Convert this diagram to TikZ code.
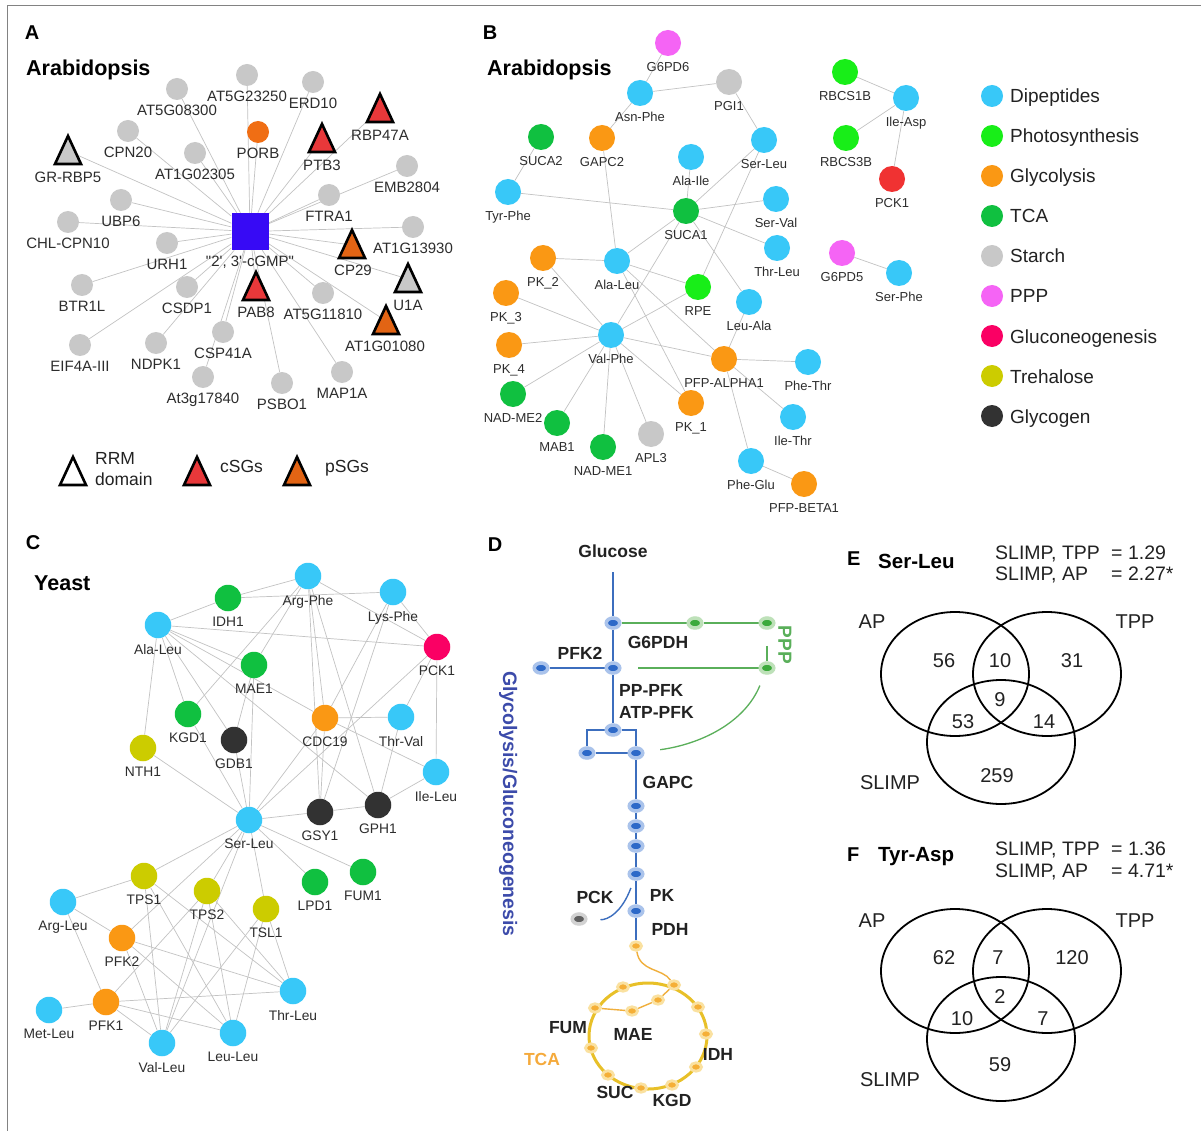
\documentclass[tikz,border=0pt]{standalone}
\usepackage{fontspec}
\setmainfont{Liberation Sans}
\usetikzlibrary{shapes.geometric}
\pgfdeclarelayer{background}
\pgfsetlayers{background,main}
\definecolor{dip}{RGB}{56,200,248}
\definecolor{pho}{RGB}{24,238,24}
\definecolor{gly}{RGB}{250,152,20}
\definecolor{tca}{RGB}{16,192,64}
\definecolor{sta}{RGB}{200,200,200}
\definecolor{ppp}{RGB}{245,100,245}
\definecolor{glu}{RGB}{250,0,100}
\definecolor{tre}{RGB}{204,204,0}
\definecolor{gcg}{RGB}{50,50,50}
\definecolor{pckB}{RGB}{240,50,50}
\definecolor{agray}{RGB}{200,200,200}
\definecolor{aorange}{RGB}{240,110,20}
\definecolor{tred}{RGB}{232,56,58}
\definecolor{torange}{RGB}{226,100,20}
\definecolor{cgmp}{RGB}{55,10,245}
\definecolor{edgec}{RGB}{195,195,195}
\definecolor{labc}{RGB}{45,45,45}
\definecolor{dblue}{RGB}{45,105,200}
\definecolor{dbhalo}{RGB}{170,195,235}
\definecolor{dbline}{RGB}{60,110,190}
\definecolor{dgreen}{RGB}{60,170,60}
\definecolor{dghalo}{RGB}{190,225,185}
\definecolor{dgline}{RGB}{90,175,90}
\definecolor{dorange}{RGB}{245,175,55}
\definecolor{dohalo}{RGB}{250,225,160}
\definecolor{doline}{RGB}{240,175,60}
\definecolor{dring}{RGB}{232,192,40}
\definecolor{dtitle}{RGB}{60,75,170}
\definecolor{dtca}{RGB}{245,170,60}
\definecolor{dtxt}{RGB}{34,34,34}
\definecolor{frame}{RGB}{130,130,130}
\begin{document}
\begin{tikzpicture}[x=1pt,y=-1pt,
  edge/.style={draw=edgec, line width=0.7pt},
  an/.style={circle, fill=#1, minimum size=22pt, inner sep=0pt},
  lA/.style={font=\fontsize{15}{18}\selectfont, text=labc, inner sep=0pt, yshift=-5.1pt},
  bn/.style={circle, fill=#1, minimum size=26pt, inner sep=0pt},
  lB/.style={font=\fontsize{13}{15}\selectfont, text=labc, inner sep=0pt, yshift=-5.8pt},
  cn/.style={circle, fill=#1, minimum size=26.5pt, inner sep=0pt},
  lC/.style={font=\fontsize{13.8}{16}\selectfont, text=labc, inner sep=0pt, yshift=-5.7pt},
  tl/.style={font=\fontsize{15}{18}\selectfont, text=labc, inner sep=0pt},
  panel/.style={font=\bfseries\fontsize{20}{22}\selectfont, text=black, inner sep=0pt},
  ttl/.style={font=\bfseries\fontsize{21.5}{24}\selectfont, text=black, inner sep=0pt, anchor=base west},
  lgt/.style={font=\fontsize{19}{22}\selectfont, text=dtxt, inner sep=0pt, anchor=base west},
  alg/.style={font=\fontsize{17.5}{20}\selectfont, text=dtxt, inner sep=0pt, anchor=base west},
  pics/tri/.style={code={\draw[line width=2.6pt, line join=miter, fill=#1] (-13,13) -- (0,-15) -- (13,13) -- cycle;}},
  bdot/.style={ellipse, minimum width=13.5pt, minimum height=10pt, inner sep=0pt, fill=dblue, draw=dbhalo, line width=3.5pt},
  gdot/.style={ellipse, minimum width=13.5pt, minimum height=10pt, inner sep=0pt, fill=dgreen, draw=dghalo, line width=3.5pt},
  odot/.style={ellipse, minimum width=11pt, minimum height=8.5pt, inner sep=0pt, fill=dorange, draw=dohalo, line width=2.8pt},
  kdot/.style={ellipse, minimum width=13.5pt, minimum height=10pt, inner sep=0pt, fill=gray!75!black, draw=gray!35, line width=3.5pt},
  bl/.style={draw=dbline, line width=1.4pt},
  gl/.style={draw=dgline, line width=1.3pt},
  ol/.style={draw=doline, line width=1.4pt},
  dl/.style={font=\bfseries\fontsize{17.5}{20}\selectfont, text=dtxt, inner sep=0pt},
  venn/.style={ellipse, draw=black, line width=1.8pt, minimum width=148pt, minimum height=124pt, inner sep=0pt},
  vt/.style={font=\fontsize{20}{22}\selectfont, text=dtxt, inner sep=0pt},
  vs/.style={font=\fontsize{19.5}{22}\selectfont, text=dtxt, inner sep=0pt, anchor=base west}
]
\useasboundingbox (0,0) rectangle (1201,1131);

% ================= Panel A =================
\node[panel] (tA) at (32,33) {A};
\node[ttl] (tA2) at (26,75.5) {Arabidopsis};
\node[fill=cgmp, minimum size=37pt, inner sep=0pt] (aC) at (250,231.5) {};
\node[tl] (aCl) at (250,262) {\textquotedbl 2\textquotesingle, 3\textquotesingle-cGMP\textquotedbl};
\node[an=agray, label={[lA]below:AT5G08300}] (aAT5G08300) at (177,89) {};
\node[an=agray, label={[lA]below:CPN20}] (aCPN20) at (128,131) {};
\node[an=agray, label={[lA]below:AT1G02305}] (aAT1G02305) at (195,153) {};
\node[an=agray, label={[lA]below:UBP6}] (aUBP6) at (121,200) {};
\node[an=agray, label={[lA]below:CHL-CPN10}] (aCHLCPN10) at (68,222) {};
\node[an=agray, label={[lA]below:URH1}] (aURH1) at (167,243) {};
\node[an=agray, label={[lA]below:AT5G23250}] (aAT5G23250) at (247,75) {};
\node[an=agray, label={[lA]below:ERD10}] (aERD10) at (313,82) {};
\node[an=aorange, label={[lA]below:PORB}] (aPORB) at (258,132) {};
\node[an=agray, label={[lA]below:EMB2804}] (aEMB2804) at (407,166) {};
\node[an=agray, label={[lA]below:FTRA1}] (aFTRA1) at (329,195) {};
\node[an=agray, label={[lA]below:AT1G13930}] (aAT1G13930) at (413,227) {};
\node[an=agray, label={[lA]below:BTR1L}] (aBTR1L) at (82,285) {};
\node[an=agray, label={[lA]below:CSDP1}] (aCSDP1) at (187,287) {};
\node[an=agray, label={[lA]below:AT5G11810}] (aAT5G11810) at (323,293) {};
\node[an=agray, label={[lA]below:EIF4A-III}] (aEIF4AIII) at (80,345) {};
\node[an=agray, label={[lA]below:NDPK1}] (aNDPK1) at (156,343) {};
\node[an=agray, label={[lA]below:CSP41A}] (aCSP41A) at (223,332) {};
\node[an=agray, label={[lA]below:At3g17840}] (aAt3g17840) at (203,377) {};
\node[an=agray, label={[lA]below:PSBO1}] (aPSBO1) at (282,383) {};
\node[an=agray, label={[lA]below:MAP1A}] (aMAP1A) at (342,372) {};
% triangles
\coordinate (aGRRBP5) at (68,151);
\coordinate (aPTB3) at (322,139);
\coordinate (aRBP47A) at (380,109);
\coordinate (aCP29) at (352,245);
\coordinate (aU1A) at (408,279);
\coordinate (aAT1G01080) at (386,321);
\coordinate (aPAB8) at (256,287);
\pic at (aGRRBP5) {tri=agray};
\pic at (aPTB3) {tri=tred};
\pic at (aRBP47A) {tri=tred};
\pic at (aCP29) {tri=torange};
\pic at (aU1A) {tri=agray};
\pic at (aAT1G01080) {tri=torange};
\pic at (aPAB8) {tri=tred};
\node[tl] (aGRRBP5l) at (68,177) {GR-RBP5};
\node[tl] (aPTB3l) at (322,165) {PTB3};
\node[tl] (aRBP47Al) at (380,135) {RBP47A};
\node[tl] (aCP29l) at (353,270) {CP29};
\node[tl] (aU1Al) at (408,305) {U1A};
\node[tl] (aAT1G01080l) at (385,346) {AT1G01080};
\node[tl] (aPAB8l) at (256,312) {PAB8};
% legend A
\pic at (73,472) {tri=white};
\pic at (197,472) {tri=tred};
\pic at (297,472) {tri=torange};
\node[alg] (aLg1) at (95,464) {RRM};
\node[alg] (aLg2) at (95,485) {domain};
\node[alg] (aLg3) at (220,472) {cSGs};
\node[alg] (aLg4) at (325,472) {pSGs};

% ================= Panel B =================
\node[panel] (tB) at (490,33) {B};
\node[ttl] (tB2) at (487,75.5) {Arabidopsis};
\node[bn=ppp, label={[lB]below:G6PD6}] (bG6PD6) at (668,43) {};
\node[bn=dip, label={[lB]below:Asn-Phe}] (bAsnPhe) at (640,93) {};
\node[bn=sta, label={[lB]below:PGI1}] (bPGI1) at (729,82) {};
\node[bn=tca, label={[lB]below:SUCA2}] (bSUCA2) at (541,137) {};
\node[bn=gly, label={[lB]below:GAPC2}] (bGAPC2) at (602,138) {};
\node[bn=dip, label={[lB]below:Ala-Ile}] (bAlaIle) at (691,157) {};
\node[bn=dip, label={[lB]below:Tyr-Phe}] (bTyrPhe) at (508,192) {};
\node[bn=tca, label={[lB]below:SUCA1}] (bSUCA1) at (686,211) {};
\node[bn=dip, label={[lB]below:Ser-Leu}] (bSerLeu) at (764,140) {};
\node[bn=dip, label={[lB]below:Ser-Val}] (bSerVal) at (776,199) {};
\node[bn=dip, label={[lB]below:Thr-Leu}] (bThrLeu) at (777,248) {};
\node[bn=dip, label={[lB]below:Leu-Ala}] (bLeuAla) at (749,302) {};
\node[bn=gly, label={[lB]below:PK\_2}] (bPK2) at (543,258) {};
\node[bn=dip, label={[lB]below:Ala-Leu}] (bAlaLeu) at (617,261) {};
\node[bn=pho, label={[lB]below:RPE}] (bRPE) at (698,287) {};
\node[bn=gly, label={[lB]below:PK\_3}] (bPK3) at (506,293) {};
\node[bn=dip, label={[lB]below:Val-Phe}] (bValPhe) at (611,335) {};
\node[bn=gly, label={[lB]below:PK\_4}] (bPK4) at (509,345) {};
\node[bn=gly, label={[lB]below:PFP-ALPHA1}] (bPFPALPHA1) at (724,359) {};
\node[bn=dip, label={[lB]below:Phe-Thr}] (bPheThr) at (808,362) {};
\node[bn=tca, label={[lB]below:NAD-ME2}] (bNADME2) at (513,394) {};
\node[bn=gly, label={[lB]below:PK\_1}] (bPK1) at (691,403) {};
\node[bn=tca, label={[lB]below:MAB1}] (bMAB1) at (557,423) {};
\node[bn=dip, label={[lB]below:Ile-Thr}] (bIleThr) at (793,417) {};
\node[bn=tca, label={[lB]below:NAD-ME1}] (bNADME1) at (603,447) {};
\node[bn=sta, label={[lB]below:APL3}] (bAPL3) at (651,434) {};
\node[bn=dip, label={[lB]below:Phe-Glu}] (bPheGlu) at (751,461) {};
\node[bn=gly, label={[lB]below:PFP-BETA1}] (bPFPBETA1) at (804,484) {};
\node[bn=pho, label={[lB]below:RBCS1B}] (bRBCS1B) at (845,72) {};
\node[bn=dip, label={[lB]below:Ile-Asp}] (bIleAsp) at (906,98) {};
\node[bn=pho, label={[lB]below:RBCS3B}] (bRBCS3B) at (846,138) {};
\node[bn=pckB, label={[lB]below:PCK1}] (bPCK1) at (892,179) {};
\node[bn=ppp, label={[lB]below:G6PD5}] (bG6PD5) at (842,253) {};
\node[bn=dip, label={[lB]below:Ser-Phe}] (bSerPhe) at (899,273) {};
% legend B
\foreach \c/\t [count=\i from 0] in {dip/Dipeptides, pho/Photosynthesis, gly/Glycolysis, tca/TCA, sta/Starch, ppp/PPP, glu/Gluconeogenesis, tre/Trehalose, gcg/Glycogen}{
  \node[circle, fill=\c, minimum size=22pt, inner sep=0pt] (lgc\i) at (992,{96+40*\i}) {};
  \node[lgt] (lgt\i) at (1010,{103+40*\i}) {\t};
}

% ================= Panel C =================
\node[panel] (tC) at (33,543) {C};
\node[ttl] (tC2) at (34,590.5) {Yeast};
\node[cn=dip, label={[lC]below:Arg-Phe}] (cArgPhe) at (308,576) {};
\node[cn=tca, label={[lC]below:IDH1}] (cIDH1) at (228,598) {};
\node[cn=dip, label={[lC]below:Lys-Phe}] (cLysPhe) at (393,592) {};
\node[cn=dip, label={[lC]below:Ala-Leu}] (cAlaLeu) at (158,625) {};
\node[cn=glu, label={[lC]below:PCK1}] (cPCK1) at (437,647) {};
\node[cn=tca, label={[lC]below:MAE1}] (cMAE1) at (254,665) {};
\node[cn=tca, label={[lC]below:KGD1}] (cKGD1) at (188,714) {};
\node[cn=gly, label={[lC]below:CDC19}] (cCDC19) at (325,718) {};
\node[cn=dip, label={[lC]below:Thr-Val}] (cThrVal) at (401,717) {};
\node[cn=gcg, label={[lC]below:GDB1}] (cGDB1) at (234,740) {};
\node[cn=tre, label={[lC]below:NTH1}] (cNTH1) at (143,748) {};
\node[cn=dip, label={[lC]below:Ile-Leu}] (cIleLeu) at (436,772) {};
\node[cn=gcg, label={[lC]below:GSY1}] (cGSY1) at (320,812) {};
\node[cn=gcg, label={[lC]below:GPH1}] (cGPH1) at (378,805) {};
\node[cn=dip, label={[lC]below:Ser-Leu}] (cSerLeu) at (249,820) {};
\node[cn=tre, label={[lC]below:TPS1}] (cTPS1) at (144,876) {};
\node[cn=tre, label={[lC]below:TPS2}] (cTPS2) at (207,891) {};
\node[cn=tre, label={[lC]below:TSL1}] (cTSL1) at (266,909) {};
\node[cn=tca, label={[lC]below:LPD1}] (cLPD1) at (315,882) {};
\node[cn=tca, label={[lC]below:FUM1}] (cFUM1) at (363,872) {};
\node[cn=dip, label={[lC]below:Arg-Leu}] (cArgLeu) at (63,902) {};
\node[cn=gly, label={[lC]below:PFK2}] (cPFK2) at (122,938) {};
\node[cn=dip, label={[lC]below:Thr-Leu}] (cThrLeu) at (293,991) {};
\node[cn=dip, label={[lC]below:Met-Leu}] (cMetLeu) at (49,1010) {};
\node[cn=gly, label={[lC]below:PFK1}] (cPFK1) at (106,1002) {};
\node[cn=dip, label={[lC]below:Val-Leu}] (cValLeu) at (162,1043) {};
\node[cn=dip, label={[lC]below:Leu-Leu}] (cLeuLeu) at (233,1033) {};

% ================= Panel D =================
\node[panel] (tD) at (495,545) {D};
\node[dl] (dGlc) at (613,551) {Glucose};
\coordinate (dTop) at (613,572);
\node[bdot] (d1) at (613,623) {};
\node[gdot] (g1) at (695,623) {};
\node[gdot] (g2) at (767,623) {};
\node[gdot] (g3) at (767,668) {};
\node[bdot] (dP) at (541,668) {};
\node[bdot] (d2) at (613,668) {};
\node[bdot] (d3) at (613,730) {};
\node[bdot] (d4) at (587,753) {};
\node[bdot] (d5) at (636,753) {};
\node[bdot] (d6) at (636,806) {};
\node[bdot] (d7) at (636,826) {};
\node[bdot] (d8) at (636,846) {};
\node[bdot] (d9) at (636,874) {};
\node[bdot] (d10) at (636,911) {};
\node[kdot] (dK) at (579,919) {};
\node[odot] (o1) at (636,946) {};
\node[odot] (t1) at (623,987) {};
\node[odot] (t2) at (674,985) {};
\node[odot] (t3) at (698,1007) {};
\node[odot] (t4) at (706,1034) {};
\node[odot] (t5) at (696,1067) {};
\node[odot] (t6) at (672,1085) {};
\node[odot] (t7) at (641,1088) {};
\node[odot] (t8) at (608,1075) {};
\node[odot] (t9) at (591,1048) {};
\node[odot] (t10) at (595,1008) {};
\node[odot] (m1) at (658,1000) {};
\node[odot] (m2) at (632,1011) {};
\node[dl] (dG6PDH) at (658,642) {G6PDH};
\node[dl] (dPFK2) at (580,653) {PFK2};
\node[dl, rotate=-90, text=dgline, font=\bfseries\fontsize{19}{20}\selectfont] (dPPP) at (785,645) {PPP};
\node[dl, anchor=base west] (dPP) at (619,696.5) {PP-PFK};
\node[dl, anchor=base west] (dATP) at (619,718.5) {ATP-PFK};
\node[dl] (dGAPC) at (668,782) {GAPC};
\node[dl] (dPCK) at (595,897) {PCK};
\node[dl] (dPK) at (662,895) {PK};
\node[dl] (dPDH) at (670,929) {PDH};
\node[dl] (dFUM) at (568,1028) {FUM};
\node[dl] (dMAE) at (633,1034) {MAE};
\node[dl, text=dtca] (dTCA) at (542,1059) {TCA};
\node[dl] (dIDH) at (718,1054) {IDH};
\node[dl] (dSUC) at (615,1092) {SUC};
\node[dl] (dKGD) at (672,1100) {KGD};
\node[rotate=-90, font=\bfseries\fontsize{19.5}{20}\selectfont, text=dtitle, inner sep=0pt] (dTitle) at (508,804) {Glycolysis/Gluconeogenesis};

% ================= Panels E, F =================
\node[panel, anchor=base west] (tE) at (847,565) {E};
\node[ttl, font=\bfseries\fontsize{20.5}{22}\selectfont] (tE2) at (878,568) {Ser-Leu};
\node[vs] (eS1) at (995,559) {SLIMP, TPP};
\node[vs] (eS1b) at (1111,559) {= 1.29};
\node[vs] (eS2) at (995,580) {SLIMP, AP};
\node[vs] (eS2b) at (1111,580) {= 2.27*};
\node[venn] (eAP) at (955,674) {};
\node[venn] (eTPP) at (1047,674) {};
\node[venn] (eSL) at (1001,742) {};
\node[vt] (eAPl) at (872,622) {AP};
\node[vt] (eTPPl) at (1135,622) {TPP};
\node[vt] (eSLl) at (890,783) {SLIMP};
\node[vt] (e1) at (944,661) {56};
\node[vt] (e2) at (1000,661) {10};
\node[vt] (e3) at (1072,661) {31};
\node[vt] (e4) at (1000,700) {9};
\node[vt] (e5) at (963,722) {53};
\node[vt] (e6) at (1044,722) {14};
\node[vt] (e7) at (997,776) {259};

\node[panel, anchor=base west] (tF) at (847,861) {F};
\node[ttl, font=\bfseries\fontsize{20.5}{22}\selectfont] (tF2) at (878,861) {Tyr-Asp};
\node[vs] (fS1) at (995,855) {SLIMP, TPP};
\node[vs] (fS1b) at (1111,855) {= 1.36};
\node[vs] (fS2) at (995,877) {SLIMP, AP};
\node[vs] (fS2b) at (1111,877) {= 4.71*};
\node[venn] (fAP) at (955,971) {};
\node[venn] (fTPP) at (1047,971) {};
\node[venn] (fSL) at (1001,1039) {};
\node[vt] (fAPl) at (872,921) {AP};
\node[vt] (fTPPl) at (1135,921) {TPP};
\node[vt] (fSLl) at (890,1080) {SLIMP};
\node[vt] (f1) at (944,958) {62};
\node[vt] (f2) at (998,958) {7};
\node[vt] (f3) at (1072,958) {120};
\node[vt] (f4) at (1000,997) {2};
\node[vt] (f5) at (962,1019) {10};
\node[vt] (f6) at (1043,1019) {7};
\node[vt] (f7) at (1000,1065) {59};

% ================= background: edges =================
\begin{pgfonlayer}{background}
\fill[white] (0,0) rectangle (1201,1131);
\draw[frame, line width=1pt] (7.5,1131) -- (7.5,5.5) -- (1201,5.5);
\foreach \n in {aAT5G08300,aCPN20,aAT1G02305,aUBP6,aCHLCPN10,aURH1,aAT5G23250,aERD10,aPORB,aEMB2804,aFTRA1,aAT1G13930,aBTR1L,aCSDP1,aAT5G11810,aEIF4AIII,aNDPK1,aCSP41A,aAt3g17840,aPSBO1,aMAP1A,aGRRBP5,aPTB3,aRBP47A,aCP29,aU1A,aAT1G01080,aPAB8}
  \draw[edge] (aC) -- (\n);
\foreach \u/\v in {bG6PD6/bAsnPhe, bAsnPhe/bPGI1, bAsnPhe/bGAPC2, bPGI1/bSerLeu, bSUCA2/bTyrPhe, bTyrPhe/bSUCA1, bGAPC2/bAlaLeu, bAlaIle/bSUCA1, bSUCA1/bSerLeu, bSUCA1/bSerVal, bSUCA1/bThrLeu, bSUCA1/bAlaLeu, bSUCA1/bLeuAla, bSUCA1/bValPhe, bSerLeu/bRPE, bAlaLeu/bPK2, bAlaLeu/bRPE, bAlaLeu/bPFPALPHA1, bAlaLeu/bPK1, bPK2/bValPhe, bPK3/bValPhe, bPK4/bValPhe, bNADME2/bValPhe, bMAB1/bValPhe, bNADME1/bValPhe, bAPL3/bValPhe, bPK1/bValPhe, bValPhe/bPFPALPHA1, bValPhe/bRPE, bLeuAla/bPFPALPHA1, bPFPALPHA1/bPheThr, bPFPALPHA1/bIleThr, bPFPALPHA1/bPheGlu, bPheGlu/bPFPBETA1, bRBCS1B/bIleAsp, bRBCS3B/bIleAsp, bIleAsp/bPCK1, bG6PD5/bSerPhe}
  \draw[edge] (\u) -- (\v);
\foreach \u/\v in {cAlaLeu/cIDH1, cIDH1/cArgPhe, cIDH1/cLysPhe, cArgPhe/cPCK1, cLysPhe/cPCK1, cAlaLeu/cPCK1, cAlaLeu/cMAE1, cAlaLeu/cKGD1, cAlaLeu/cGDB1, cAlaLeu/cNTH1, cAlaLeu/cCDC19, cAlaLeu/cGPH1, cArgPhe/cMAE1, cArgPhe/cKGD1, cArgPhe/cCDC19, cArgPhe/cGSY1, cArgPhe/cGPH1, cMAE1/cGDB1, cMAE1/cSerLeu, cLysPhe/cCDC19, cLysPhe/cGSY1, cPCK1/cThrVal, cPCK1/cIleLeu, cPCK1/cSerLeu, cCDC19/cThrVal, cCDC19/cIleLeu, cCDC19/cGSY1, cCDC19/cSerLeu, cThrVal/cGPH1, cGPH1/cIleLeu, cGPH1/cGSY1, cGSY1/cSerLeu, cNTH1/cSerLeu, cKGD1/cSerLeu, cGDB1/cSerLeu, cSerLeu/cTPS1, cSerLeu/cTPS2, cSerLeu/cTSL1, cSerLeu/cLPD1, cSerLeu/cFUM1, cSerLeu/cPFK2, cSerLeu/cValLeu, cArgLeu/cTPS1, cArgLeu/cPFK2, cArgLeu/cPFK1, cTPS1/cValLeu, cTPS1/cLeuLeu, cTPS1/cThrLeu, cTPS2/cValLeu, cTPS2/cLeuLeu, cTPS2/cThrLeu, cTSL1/cValLeu, cTSL1/cLeuLeu, cTSL1/cThrLeu, cPFK2/cThrLeu, cPFK2/cValLeu, cPFK2/cLeuLeu, cPFK1/cMetLeu, cPFK1/cThrLeu, cPFK1/cLeuLeu, cPFK1/cValLeu, cPFK1/cTPS2}
  \draw[edge] (\u) -- (\v);
% D lines
\draw[bl] (dTop) -- (d1) -- (d2) -- (d3);
\draw[bl] (dP) -- (d2);
\draw[bl] (d3) -| (d4);
\draw[bl] (d3) -| (d5);
\draw[bl] (d4) -- (d5);
\draw[bl] (d5) -- (d6) -- (d7) -- (d8) -- (d9) -- (d10) -- (o1);
\draw[bl, shorten <=8pt, shorten >=13pt] (d9) .. controls (622,912) and (608,920) .. (dK);
\draw[gl, shorten <=16pt] (d1) -- (g1) -- (g2) -- (g3);
\draw[gl, shorten >=16pt] (g3) -- (d2);
\draw[gl, shorten <=12pt, shorten >=16pt] (g3) .. controls (745,722) and (702,744) .. (d5);
\draw[ol] (o1) .. controls (640,972) and (662,968) .. (t2);
\draw[dring, line width=3pt] (648,1036) ellipse [x radius=59pt, y radius=53pt];
\draw[ol] (t2) -- (m1) -- (m2) -- (t10);
\end{pgfonlayer}
\end{tikzpicture}
\end{document}
